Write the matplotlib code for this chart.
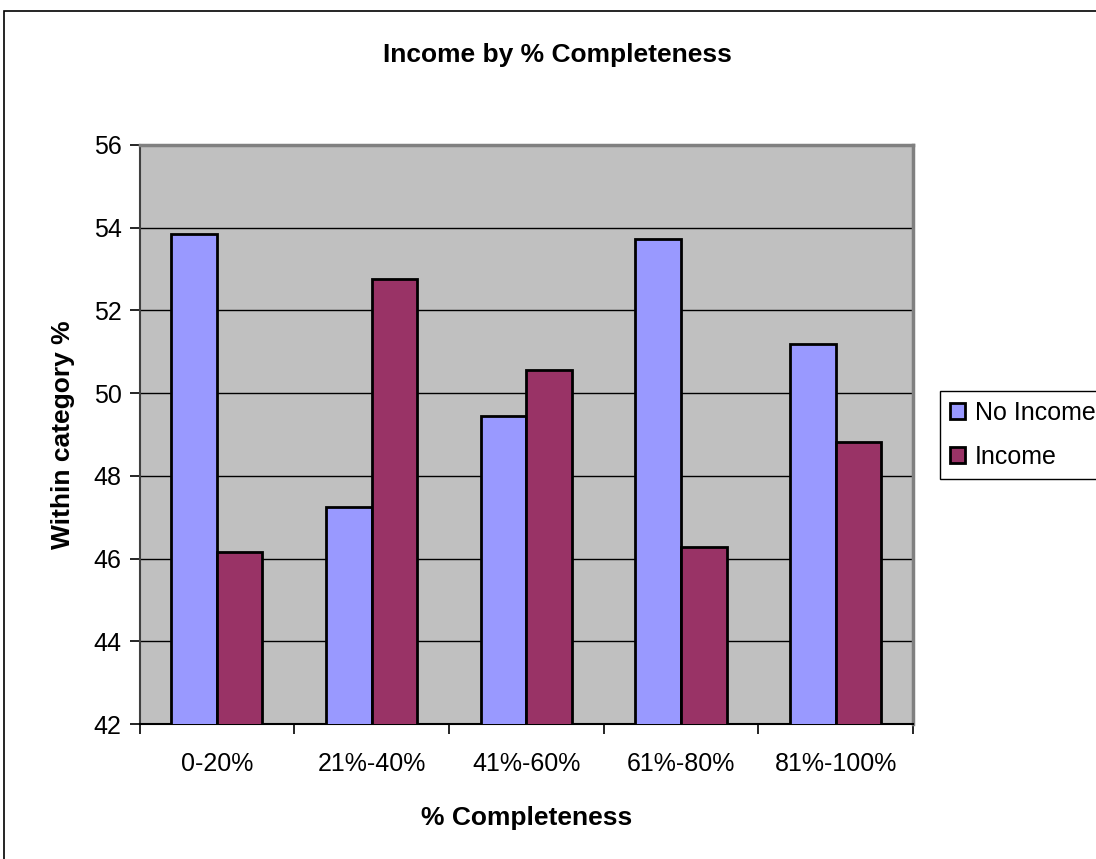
import numpy as np
import matplotlib.pyplot as plt
from matplotlib.patches import Rectangle

plt.rcParams['font.family'] = ['Liberation Sans', 'DejaVu Sans']

categories = ['0-20%', '21%-40%', '41%-60%', '61%-80%', '81%-100%']
no_income = [53.85, 47.25, 49.45, 53.72, 51.18]
income = [46.15, 52.75, 50.55, 46.28, 48.82]
yticks = [42, 44, 46, 48, 50, 52, 54, 56]

W, H = 1096, 859
fig = plt.figure(figsize=(W / 100, H / 100), dpi=100)

# chart area frame (runs off the right and bottom edge)
fig.patches.append(Rectangle((4 / W, -0.1), 1.2, 1.1 - 11 / H, transform=fig.transFigure,
                             fill=False, edgecolor='black', linewidth=1.2))

left, right, top, bottom = 139.5, 913, 145, 724
ax = fig.add_axes([left / W, (H - bottom) / H, (right - left) / W, (bottom - top) / H])
ax.set_facecolor('#C0C0C0')

x = np.arange(len(categories))
bw = 0.295
ax.bar(x - bw / 2, no_income, bw, color='#9999FF', edgecolor='black', linewidth=2,
       label='No Income', zorder=3)
ax.bar(x + bw / 2, income, bw, color='#993366', edgecolor='black', linewidth=2,
       label='Income', zorder=3)

ax.set_xlim(-0.5, len(categories) - 0.5)
ax.set_ylim(42, 56)
ax.set_yticks(yticks)
ax.set_yticklabels([str(v) for v in yticks], fontsize=18)
ax.yaxis.grid(True, color='black', linewidth=1)
ax.set_axisbelow(True)

ax.set_xticks(x)
ax.set_xticklabels(categories, fontsize=18)
ax.set_xticks(np.arange(len(categories) + 1) - 0.5, minor=True)
ax.tick_params(axis='x', which='major', length=0, pad=20)
ax.tick_params(axis='x', which='minor', length=7, width=1.2, direction='out')
ax.tick_params(axis='y', length=7, width=1.2, direction='out', pad=6)

for side in ['top', 'right']:
    ax.spines[side].set_color('#808080')
    ax.spines[side].set_linewidth(2.5)
ax.spines['left'].set_color('#404040')
ax.spines['left'].set_linewidth(1.5)
ax.spines['bottom'].set_color('black')
ax.spines['bottom'].set_linewidth(1.5)

ax.set_ylabel('Within category %', fontsize=19, fontweight='bold', labelpad=13)
ax.set_xlabel('% Completeness', fontsize=19, fontweight='bold', labelpad=22)
fig.text(557 / W, 1 - 55 / H, 'Income by % Completeness', ha='center', va='center',
         fontsize=19, fontweight='bold')

leg = fig.legend(loc='center left', bbox_to_anchor=(940 / W, 1 - 435 / H), fontsize=18,
                 frameon=True, fancybox=False, edgecolor='black', framealpha=1,
                 handlelength=0.6, handleheight=0.6, handletextpad=0.4,
                 borderpad=0.4, labelspacing=0.8, borderaxespad=0)
leg.get_frame().set_linewidth(1)

fig.savefig('out.png', dpi=100)
